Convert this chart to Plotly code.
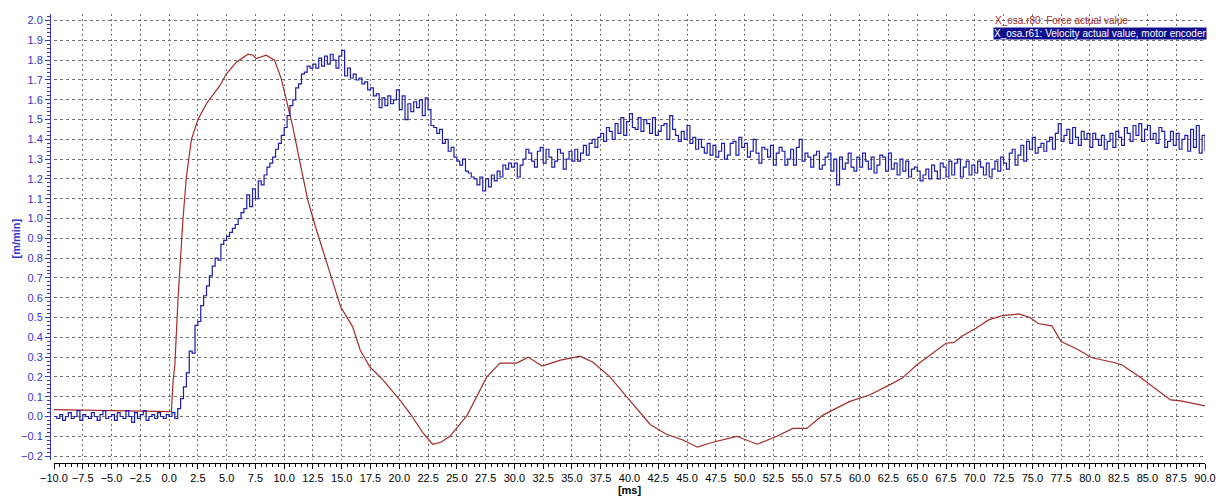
import numpy as np
import plotly.graph_objects as go

# ---- Force actual value (red) : time [ms], value
red_t = [-10, -5, -0.5, 0.2, 0.35, 0.5, 0.78, 0.98, 1.21, 1.5, 1.94, 2.51, 3.24, 4.39, 4.97,
         5.84, 6.85, 7.3, 7.57, 8.44, 9.16, 9.74, 10.3, 10.75, 11.33, 12.05, 12.63, 13.35,
         14.2, 14.9, 15.95, 16.6, 17.45, 18.5, 20.06, 21.0, 22.06, 22.9, 23.6, 24.4, 25.9,
         27.6, 28.75, 30.2, 31.2, 32.4, 34.0, 35.7, 36.8, 38.3, 40.0, 41.8, 43.2, 44.7, 45.9,
         47.0, 49.3, 51.1, 52.8, 54.2, 55.4, 56.8, 59.1, 60.9, 62.6, 63.7, 64.9, 66.1, 67.5,
         68.2, 68.9, 70.1, 71.2, 72.4, 73.8, 74.8, 75.5, 76.7, 77.5, 79.0, 80.1, 82.1, 82.8,
         84.4, 86.2, 87.0, 87.9, 89.0, 90.0]
red_v = [0.035, 0.03, 0.025, 0.025, 0.18, 0.26, 0.60, 0.80, 1.00, 1.21, 1.40, 1.50, 1.58, 1.67, 1.73,
         1.79, 1.83, 1.825, 1.808, 1.825, 1.80, 1.707, 1.573, 1.463, 1.295, 1.093, 0.975, 0.84,
         0.689, 0.554, 0.453, 0.336, 0.25, 0.19, 0.083, 0.01, -0.083, -0.14, -0.13, -0.10, 0.007,
         0.20, 0.27, 0.27, 0.30, 0.255, 0.285, 0.305, 0.275, 0.20, 0.083, -0.04, -0.09, -0.12, -0.155,
         -0.134, -0.10, -0.14, -0.10, -0.06, -0.06, 0.007, 0.075, 0.11, 0.16, 0.194, 0.258, 0.311, 0.37,
         0.374, 0.407, 0.446, 0.488, 0.51, 0.518, 0.50, 0.47, 0.458, 0.379, 0.337, 0.298, 0.273, 0.26,
         0.197, 0.118, 0.084, 0.079, 0.067, 0.054]

# ---- Velocity actual value, motor encoder (blue): sampled every 0.25 ms from -10 to 90
blue_t0 = -10.0
blue_dt = 0.25
blue_v = [
    0.00, -0.01, 0.01, -0.02, 0.00, 0.02, -0.01, 0.00, 0.03, -0.02, 0.01, 0.00, -0.01, 0.02, 0.00, -0.02, 0.01, 0.03, -0.01, 0.00,
    0.01, -0.02, 0.02, 0.00, -0.01, 0.03, 0.00, -0.03, 0.02, -0.01, 0.01, 0.03, -0.02, 0.00, 0.01, -0.01, 0.02, 0.00, -0.01, 0.01,
    0.00, 0.02, -0.01, 0.04, 0.09, 0.15, 0.22, 0.33, 0.32, 0.46, 0.48, 0.56, 0.61, 0.66, 0.71, 0.76, 0.80, 0.79, 0.87, 0.89,
    0.91, 0.93, 0.95, 0.97, 1.00, 1.03, 1.05, 1.12, 1.06, 1.15, 1.10, 1.19, 1.17, 1.22, 1.26, 1.28, 1.31, 1.35, 1.38, 1.42,
    1.46, 1.52, 1.57, 1.60, 1.66, 1.68, 1.73, 1.74, 1.77, 1.76, 1.78, 1.76, 1.81, 1.77, 1.82, 1.78, 1.83, 1.80, 1.76, 1.82,
    1.85, 1.72, 1.76, 1.71, 1.73, 1.70, 1.71, 1.68, 1.69, 1.65, 1.66, 1.62, 1.63, 1.56, 1.61, 1.57, 1.62, 1.58, 1.60, 1.65,
    1.55, 1.62, 1.50, 1.58, 1.54, 1.59, 1.56, 1.60, 1.52, 1.61, 1.55, 1.47, 1.46, 1.43, 1.45, 1.38, 1.40, 1.34, 1.36, 1.31,
    1.29, 1.27, 1.30, 1.24, 1.23, 1.21, 1.20, 1.17, 1.21, 1.14, 1.20, 1.16, 1.22, 1.19, 1.24, 1.21, 1.27, 1.25, 1.28, 1.26,
    1.28, 1.21, 1.27, 1.30, 1.35, 1.33, 1.29, 1.26, 1.34, 1.36, 1.28, 1.35, 1.31, 1.26, 1.29, 1.35, 1.33, 1.25, 1.30, 1.34,
    1.29, 1.35, 1.29, 1.33, 1.37, 1.32, 1.38, 1.40, 1.36, 1.41, 1.43, 1.39, 1.46, 1.44, 1.40, 1.48, 1.43, 1.51, 1.42, 1.49,
    1.53, 1.46, 1.45, 1.51, 1.44, 1.50, 1.48, 1.43, 1.51, 1.42, 1.44, 1.47, 1.48, 1.40, 1.52, 1.45, 1.42, 1.39, 1.44, 1.40,
    1.47, 1.38, 1.41, 1.35, 1.40, 1.36, 1.33, 1.38, 1.32, 1.37, 1.31, 1.34, 1.38, 1.30, 1.32, 1.38, 1.39, 1.32, 1.41, 1.36,
    1.38, 1.31, 1.34, 1.40, 1.33, 1.28, 1.36, 1.35, 1.31, 1.37, 1.27, 1.33, 1.36, 1.34, 1.27, 1.30, 1.35, 1.27, 1.36, 1.40,
    1.29, 1.33, 1.31, 1.26, 1.32, 1.34, 1.25, 1.27, 1.31, 1.33, 1.24, 1.30, 1.17, 1.31, 1.25, 1.28, 1.33, 1.26, 1.24, 1.31,
    1.26, 1.33, 1.29, 1.25, 1.31, 1.23, 1.27, 1.32, 1.31, 1.24, 1.33, 1.25, 1.28, 1.22, 1.30, 1.24, 1.29, 1.21, 1.25, 1.26,
    1.24, 1.19, 1.22, 1.25, 1.20, 1.27, 1.24, 1.20, 1.28, 1.26, 1.21, 1.29, 1.22, 1.28, 1.30, 1.21, 1.26, 1.29, 1.22, 1.27,
    1.23, 1.29, 1.26, 1.22, 1.28, 1.21, 1.25, 1.29, 1.24, 1.31, 1.28, 1.25, 1.33, 1.35, 1.27, 1.32, 1.37, 1.29, 1.39, 1.35,
    1.41, 1.33, 1.36, 1.38, 1.34, 1.39, 1.41, 1.35, 1.43, 1.48, 1.39, 1.42, 1.45, 1.38, 1.46, 1.41, 1.37, 1.44, 1.40, 1.43,
    1.36, 1.43, 1.40, 1.37, 1.42, 1.35, 1.39, 1.43, 1.36, 1.44, 1.41, 1.37, 1.46, 1.43, 1.39, 1.47, 1.42, 1.48, 1.39, 1.45,
    1.47, 1.40, 1.43, 1.38, 1.46, 1.44, 1.36, 1.39, 1.44, 1.37, 1.43, 1.35, 1.40, 1.42, 1.34, 1.45, 1.36, 1.47, 1.33, 1.42,
    1.34,
]
blue_t = [blue_t0 + blue_dt * i for i in range(len(blue_v))]

legend_force = "X_osa.r80: Force actual value"
legend_vel = "X_osa.r61: Velocity actual value, motor encoder"
x_title = "[ms]"
y_title = "[m/min]"

RED = "#A52A2A"
BLUE = "#1C1CB0"
AXBLUE = "#3535C8"
GRID = "#6E6E6E"
FONT = "Liberation Sans, Arial, sans-serif"

fig = go.Figure()
fig.add_trace(go.Scatter(x=red_t, y=red_v, mode="lines", line=dict(color=RED, width=1.2),
                         name=legend_force, showlegend=False))
fig.add_trace(go.Scatter(x=blue_t, y=blue_v, mode="lines", line=dict(color=BLUE, width=1.2, shape="hv"),
                         name=legend_vel, showlegend=False))

W, H = 1219, 497
ml, mr, mt, mb = 50, 14, 14, 34
pw = W - ml - mr
ph = H - mt - mb

fig.update_layout(
    width=W, height=H,
    margin=dict(l=ml, r=mr, t=mt, b=mb, pad=0, autoexpand=False),
    paper_bgcolor="white", plot_bgcolor="white",
    font=dict(family=FONT, size=11, color="black"),
    showlegend=False,
    xaxis=dict(
        domain=[4 / pw, 1], anchor="free", position=0, automargin=False,
        range=[-10, 90], dtick=2.5, tick0=0, tickformat=".1f",
        showgrid=True, gridcolor=GRID, griddash="2px,3px", gridwidth=1,
        zeroline=False, showline=True, linecolor="black", linewidth=1,
        ticks="outside", ticklen=5, tickcolor="black",
        tickfont=dict(family=FONT, size=11, color="black"),
        minor=dict(dtick=0.5, ticks="outside", ticklen=3, tickcolor="black", showgrid=False),
        title=dict(text="<b>" + x_title + "</b>", font=dict(family=FONT, size=11, color="black"), standoff=2),
    ),
    yaxis=dict(
        domain=[3 / ph, 1], anchor="free", position=0, automargin=False,
        range=[-0.2197, 2.0333], dtick=0.1, tick0=0, tickformat=".1f",
        showgrid=True, gridcolor=GRID, griddash="3px,3px", gridwidth=1,
        zeroline=False, showline=True, linecolor=AXBLUE, linewidth=1,
        ticks="outside", ticklen=5, tickcolor=AXBLUE,
        tickfont=dict(family=FONT, size=11, color=AXBLUE),
        minor=dict(dtick=0.02, ticks="outside", ticklen=3, tickcolor=AXBLUE, showgrid=False),
    ),
)

# y-axis title placed as rotated text
fig.add_annotation(x=(15 - ml) / pw, y=0.5, xref="paper", yref="paper", xanchor="center", yanchor="middle",
                   text="<b>" + y_title + "</b>", textangle=-90, showarrow=False,
                   font=dict(family=FONT, size=11, color=AXBLUE))

fig.add_annotation(x=71.58, y=2.003, xref="x", yref="y", xanchor="left", yanchor="middle",
                   text=legend_force, showarrow=False,
                   font=dict(family=FONT, size=10, color=RED))
fig.add_annotation(x=71.58, y=1.937, xref="x", yref="y", xanchor="left", yanchor="middle",
                   text=legend_vel, showarrow=False, bgcolor="#10108C", borderpad=0,
                   font=dict(family=FONT, size=10, color="white"))

fig.write_html("out.html")
